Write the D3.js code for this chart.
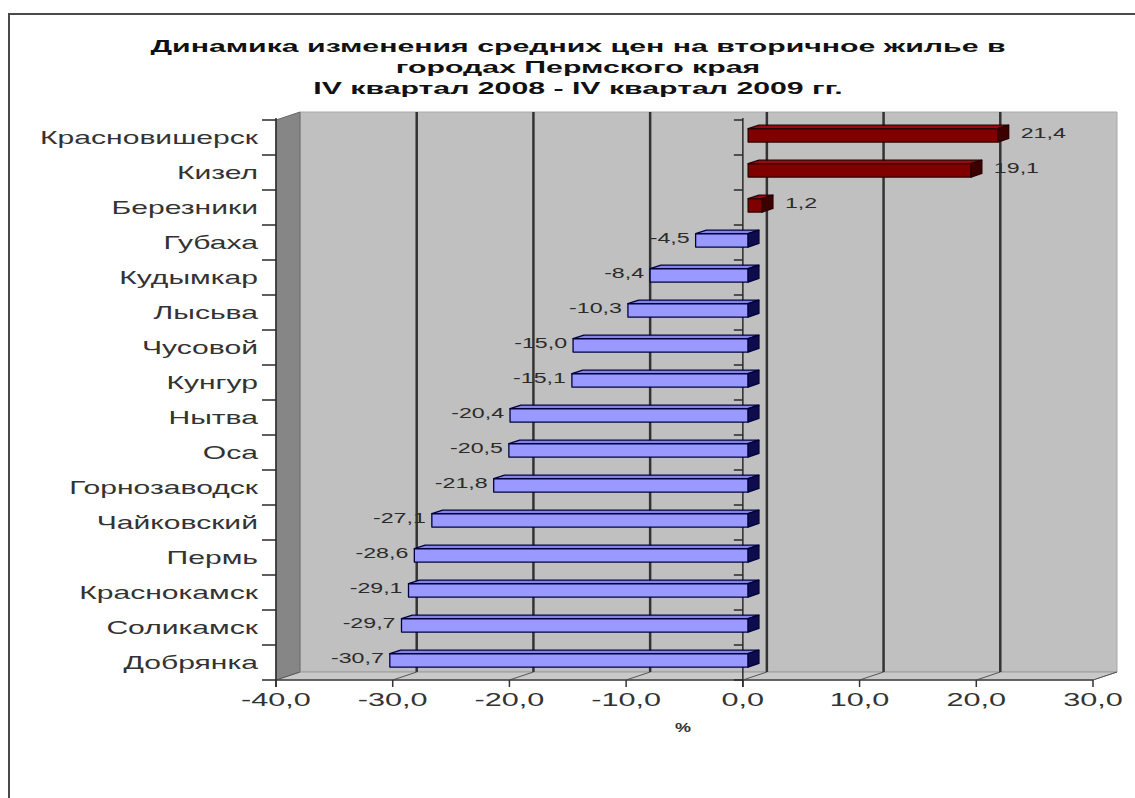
<!DOCTYPE html>
<html>
<head>
<meta charset="utf-8">
<script src="https://cdn.jsdelivr.net/npm/d3@7"></script>
<style>
  body { margin: 0; background: #fff; }
  svg { display: block; }
  text { font-family: Arial, "Liberation Sans", sans-serif; }
</style>
</head>
<body>
<svg id="chart" width="1135" height="798"></svg>
<script>
// Price change of secondary housing by city, Q4 2008 – Q4 2009, %
const cities = ["Красновишерск", "Кизел", "Березники", "Губаха", "Кудымкар", "Лысьва", "Чусовой",
  "Кунгур", "Нытва", "Оса", "Горнозаводск", "Чайковский", "Пермь", "Краснокамск", "Соликамск", "Добрянка"];
const changes = [21.4, 19.1, 1.2, -4.5, -8.4, -10.3, -15.0, -15.1, -20.4, -20.5, -21.8, -27.1, -28.6, -29.1, -29.7, -30.7];
const xTicks = [-40, -30, -20, -10, 0, 10, 20, 30];
const titleLines = ["Динамика изменения средних цен на вторичное жилье в",
  "городах Пермского края", "IV квартал 2008 - IV квартал 2009 гг."];
const axisTitle = "%";

const locale = d3.formatLocale({ decimal: ",", thousands: " ", grouping: [3], currency: ["", ""], minus: "-" });
const fmt = locale.format(".1f");

const svg = d3.select("#chart");
svg.append("rect").attr("width", 1135).attr("height", 798).attr("fill", "#fff");

// front-plane scales
const x = d3.scaleLinear().domain([-40, 30]).range([276, 1093]);
const y = d3.scaleBand().domain(cities).range([120, 680]);
const step = y.step();
const DX = 24, DY = -8;                 // offset of the back plane (depth of the 3D box)
const P = (px, py, f) => [px + DX * f, py + DY * f];

// lettering is drawn horizontally widened
function stretchedText(g, px, py, str, anchor, size, sx, weight, fill) {
  return g.append("text")
    .attr("transform", `translate(${px},${py}) scale(${sx},1)`)
    .attr("text-anchor", anchor)
    .attr("font-size", size)
    .attr("font-weight", weight || "normal")
    .attr("fill", fill || "#2b2b2b")
    .text(str);
}

// outer frame
svg.append("path").attr("d", "M9,798 V14 H1135").attr("fill", "none").attr("stroke", "#4a4a4a").attr("stroke-width", 2);

// title
const title = svg.append("g");
titleLines.forEach((t, i) => stretchedText(title, 578, 52 + i * 21, t, "middle", 17, 1.78, "bold", "#111"));

const x0 = x.range()[0], x1 = x.range()[1];
const yT = y.range()[0], yB = y.range()[1];

// walls and floor
const walls = svg.append("g");
walls.append("polygon")
  .attr("points", [[x0 + DX, yT + DY], [x1 + DX, yT + DY], [x1 + DX, yB + DY], [x0 + DX, yB + DY]].join(" "))
  .attr("fill", "#c0c0c0").attr("stroke", "#a8a8a8");
walls.append("polygon")
  .attr("points", [[x0, yT], [x0 + DX, yT + DY], [x0 + DX, yB + DY], [x0, yB]].join(" "))
  .attr("fill", "#868686").attr("stroke", "#6a6a6a");
walls.append("polygon")
  .attr("points", [[x0, yB], [x0 + DX, yB + DY], [x1 + DX, yB + DY], [x1, yB]].join(" "))
  .attr("fill", "#c9c9c9").attr("stroke", "#9a9a9a");

// gridlines on the back wall and their traces on the floor
const grid = svg.append("g");
grid.selectAll("line.g").data(xTicks.filter(v => v > -40 && v < 30)).join("line")
  .attr("x1", v => x(v) + DX).attr("x2", v => x(v) + DX)
  .attr("y1", yT + DY).attr("y2", yB + DY)
  .attr("stroke", "#333").attr("stroke-width", 2.5);
grid.selectAll("line.f").data(xTicks).join("line")
  .attr("x1", v => x(v)).attr("y1", yB)
  .attr("x2", v => x(v) + DX).attr("y2", yB + DY)
  .attr("stroke", "#555").attr("stroke-width", 1);

// front edge of floor and value ticks
grid.append("line").attr("x1", x0).attr("x2", x1).attr("y1", yB).attr("y2", yB)
  .attr("stroke", "#444").attr("stroke-width", 1.5);
grid.selectAll("line.t").data(xTicks).join("line")
  .attr("x1", v => x(v)).attr("x2", v => x(v)).attr("y1", yB).attr("y2", yB + 7)
  .attr("stroke", "#333").attr("stroke-width", 1.5);

// category axis lines with boundary ticks
const bounds = d3.range(cities.length + 1).map(i => yT + i * step);
[[x0, 14], [x(0), 9]].forEach(([ax, len]) => {
  grid.append("line").attr("x1", ax).attr("x2", ax).attr("y1", yT - 2).attr("y2", yB + 7)
    .attr("stroke", "#2a2a2a").attr("stroke-width", 1.5);
  grid.selectAll(null).data(bounds).join("line")
    .attr("x1", ax - len).attr("x2", ax).attr("y1", d => d).attr("y2", d => d)
    .attr("stroke", "#2a2a2a").attr("stroke-width", 1.5);
});

// 3D bars
const fa = 0.22, fb = 0.67;             // front / back depth of the bars
const bars = svg.append("g");
cities.forEach((c, i) => {
  const v = changes[i];
  const pos = v >= 0;
  const xl = x(Math.min(0, v)), xr = x(Math.max(0, v));
  const yt = y(c) + 0.3 * step, yb = y(c) + 0.68 * step;
  const col = pos ? { front: "#800000", top: "#9a0a0a", side: "#3d0000", line: "#2a0000" }
                  : { front: "#9999ff", top: "#8484e6", side: "#0d0d4d", line: "#000040" };
  const g = bars.append("g");
  const faces = [
    { pts: [P(xl, yt, fa), P(xr, yt, fa), P(xr, yt, fb), P(xl, yt, fb)], fill: col.top },
    { pts: [P(xl, yt, fa), P(xr, yt, fa), P(xr, yb, fa), P(xl, yb, fa)], fill: col.front },
    { pts: [P(xr, yt, fa), P(xr, yt, fb), P(xr, yb, fb), P(xr, yb, fa)], fill: col.side }
  ];
  faces.forEach(f => g.append("polygon").attr("points", f.pts.join(" "))
    .attr("fill", f.fill).attr("stroke", col.line).attr("stroke-width", 1.3).attr("stroke-linejoin", "round"));
});

// value labels
const labels = svg.append("g");
cities.forEach((c, i) => {
  const v = changes[i];
  const cy = y(c) + step / 2;
  if (v >= 0) stretchedText(labels, x(v) + DX * fb + 12, cy, fmt(v), "start", 14.5, 1.6, "normal", "#2b2b2b");
  else stretchedText(labels, x(v) + DX * fa - 6, cy, fmt(v), "end", 14.5, 1.6, "normal", "#2b2b2b");
});

// category labels
const cats = svg.append("g");
cities.forEach(c => stretchedText(cats, 258, y(c) + step / 2 + 6, c, "end", 17.5, 1.72, "normal", "#333"));

// value axis labels and title
const ticks = svg.append("g");
xTicks.forEach(v => stretchedText(ticks, x(v), 706, fmt(v), "middle", 17.5, 1.75, "normal", "#333"));
stretchedText(svg, 683, 732, axisTitle, "middle", 12, 1.5, "bold", "#333");
</script>
</body>
</html>
